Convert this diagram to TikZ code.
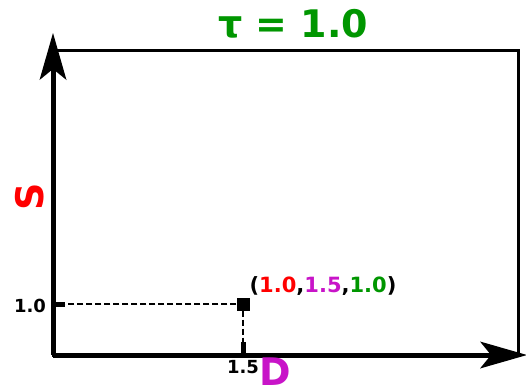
\documentclass[tikz,border=0pt]{standalone}
\usepackage{fontspec}
\setmainfont{DejaVu Sans}
\usetikzlibrary{arrows.meta}
\definecolor{tgreen}{RGB}{0,150,0}
\definecolor{dmag}{RGB}{200,20,200}
\definecolor{sred}{RGB}{255,0,0}

\begin{document}
\begin{tikzpicture}[x=1pt,y=-1pt,font=\bfseries,
  axis/.style={line width=5pt,-{Stealth[length=47pt,width=27pt,inset=11pt,line width=0pt]}},
  frame/.style={line width=3pt},
  proj/.style={line width=2pt,dash pattern=on 6pt off 3pt},
  tickmark/.style={line width=5pt},
  biglab/.style={font=\fontsize{38}{38}\selectfont\bfseries,inner sep=0pt,anchor=base},
  smalllab/.style={font=\fontsize{18}{18}\selectfont\bfseries,inner sep=0pt,anchor=base}]
\useasboundingbox (0,0) rectangle (526,391);
% corners and axis ends
\coordinate (origin) at (53,355);
\coordinate (corner) at (518,50);
\coordinate (ytop) at (53,33);
\coordinate (xend) at (527,355);
\coordinate (yproj) at (53,304);
\coordinate (xproj) at (243,355);
\coordinate (ytick) at (65,304);
\coordinate (xtick) at (243,342);
% frame and axes
\draw[frame] (origin) rectangle (corner);
\draw[axis] (origin) -- (ytop);
\draw[axis] (origin) -- (xend);
% point and projections
\node[fill=black,minimum size=13pt,inner sep=0pt] (pt) at (243,304) {};
\draw[proj] (pt) -- (yproj);
\draw[proj] (pt) -- (xproj);
\draw[tickmark] (yproj) -- (ytick);
\draw[tickmark] (xproj) -- (xtick);
% labels
\node[biglab,text=tgreen] (title) at (293,37) {τ = 1.0};
\node[biglab,text=sred,rotate=90] (labS) at (43,197) {S};
\node[biglab,text=dmag] (labD) at (275,385) {D};
\node[smalllab] (labx) at (243,373) {1.5};
\node[smalllab] (laby) at (30,312) {1.0};
\node[smalllab,font=\fontsize{21}{21}\selectfont\bfseries] (ptlab) at (323,292)
 {(\textcolor{sred}{1.0},\textcolor{dmag}{1.5},\textcolor{tgreen}{1.0})};
\end{tikzpicture}
\end{document}
